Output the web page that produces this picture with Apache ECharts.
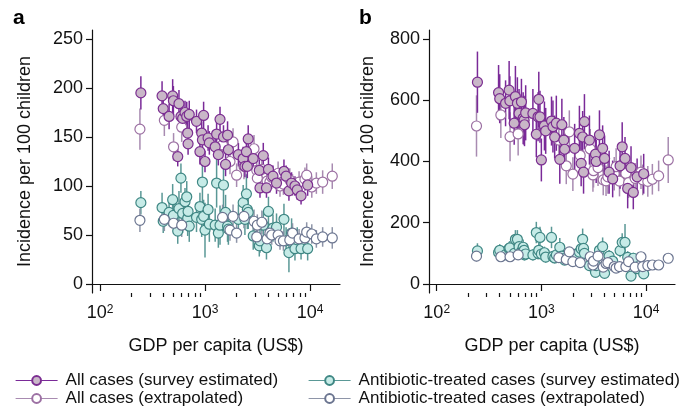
<!DOCTYPE html>
<html><head><meta charset="utf-8">
<script src="https://cdn.jsdelivr.net/npm/echarts@6/dist/echarts.min.js"></script>
<style>html,body{margin:0;padding:0;background:#fff}#c{width:687px;height:409px}</style>
</head><body><div id="c"></div>
<script>
// ---- Data ----
// Countries with survey-estimated values (GDP per capita, US$)
const surveyGdp = [245,390,400,455,492,500,550,565,590,612,645,670,684,690,708,830,895,930,945,970,1000,1070,1100,1250,1290,1340,1390,1500,1570,1640,1670,2080,2310,2400,2480,2530,2580,2880,3290,3340,3590,3850,4020,4440,4800,5650,5920,6300,6680,7190,7560,8220,9500];
// Panel a: all cases (survey)
const allA = [195,192,179,171,192,187,130,184,171,169,175,171,154,143,173,166,135,154,147,172,125,149,144,140,153,132,168,150,122,152,137,132,128,120,135,120,148,128,116,98,131,98,117,110,103,115,110,95,103,100,96,90,101];
const allAErr = [17,15,14,13,17,15,10,14,16,14,12,15,12,11,14,12,13,12,12,14,11,13,12,12,14,11,13,12,12,14,12,12,12,11,14,12,14,12,11,10,13,10,12,11,11,12,11,10,11,10,10,9,11];
// Panel a: antibiotic-treated (survey)
const abA = [83,78,64,73,86,70,54,77,108,72,84,89,67,74,59,68,79,66,104,69,55,76,61,60,103,52,60,101,73,59,56,66,83,66,92,76,73,49,39,44,60,37,74,57,58,66,44,32,52,36,45,36,36];
const abAErr = [12,15,12,14,16,13,13,18,15,20,14,16,18,20,16,15,14,18,25,17,28,16,18,17,25,15,20,24,18,16,16,15,18,16,20,20,17,14,11,12,14,12,15,14,14,16,14,20,15,12,13,11,12];
// Panel b: all cases (survey)
const allB = [659,625,605,590,633,598,525,612,590,557,595,541,535,520,559,557,489,546,603,546,405,516,500,532,514,480,525,407,520,470,440,443,492,394,480,365,530,470,424,400,487,443,410,365,343,386,448,410,312,380,299,350,360];
const allBErr = [100,90,80,75,95,80,70,100,85,80,75,85,80,70,90,80,75,80,90,85,70,80,75,80,85,70,90,80,85,75,70,80,90,75,85,70,90,80,70,70,80,75,75,70,60,75,80,70,65,70,55,60,65];
// Panel b: antibiotic-treated (survey)
const abB = [108,103,110,96,116,118,100,146,146,122,106,120,110,95,98,95,168,100,110,152,98,102,88,152,90,85,95,120,91,84,78,95,104,115,146,116,100,60,38,60,110,122,35,91,75,109,136,136,87,26,84,50,33];
const abBErr = [25,20,20,18,22,22,18,30,30,25,20,25,20,18,18,18,35,20,25,35,20,20,18,35,18,18,18,30,18,18,16,20,20,25,35,25,20,18,14,16,22,30,14,20,18,22,30,60,20,14,18,16,14];

// Countries with extrapolated values
const extrapGdp = [240,410,502,600,1470,1730,1850,2000,2350,2930,3110,3150,3480,3900,4150,4320,4970,5180,5580,6420,6820,7870,8950,9300,10400,11500,13200,16300];
const allAx = [158,167,140,160,142,125,145,111,120,138,116,108,117,105,104,109,113,100,102,106,101,104,107,111,99,103,104,110];
const allAxErr = [21,16,14,15,14,13,14,12,13,14,12,12,13,12,11,12,12,11,11,12,11,11,12,12,11,11,12,13];
const abAx = [65,66,62,60,68,55,69,52,69,64,48,60,63,46,52,50,50,44,44,45,52,46,47,53,51,46,48,47];
const abAxErr = [12,12,11,12,13,11,12,10,12,12,10,11,12,10,10,10,11,9,10,10,10,10,10,10,10,9,10,11];
const allBx = [516,552,481,490,470,386,497,359,420,441,356,370,380,340,337,350,360,383,336,361,331,345,365,340,335,342,353,405];
const allBxErr = [100,75,80,70,65,60,70,55,60,65,55,55,60,50,50,55,55,60,50,55,50,50,55,50,50,50,50,75];
const abBx = [91,89,89,95,86,80,105,73,70,89,62,75,91,55,67,70,57,52,57,57,73,55,89,57,60,62,62,84];
const abBxErr = [18,15,15,15,15,14,16,13,14,15,12,13,15,12,12,12,12,12,12,12,13,12,14,12,12,12,12,15];

// Axis ticks
const xMajor = [100, 1000, 10000];
const xMinor = [200,300,400,500,600,700,800,900,2000,3000,4000,5000,6000,7000,8000,9000];
const yTicksA = [0, 50, 100, 150, 200, 250];
const yTicksB = [0, 200, 400, 600, 800];

const NAMES = ['All cases (survey estimated)', 'All cases (extrapolated)',
  'Antibiotic-treated cases (survey estimated)', 'Antibiotic-treated cases (extrapolated)'];

// ---- Styling ----
const FONT = '"Liberation Sans", Arial, Helvetica, sans-serif';
const STY = [
  {fill:'#c9b7c8', border:'#7b2d91', bar:'#7a2a98'},
  {fill:'#ffffff', border:'#9c70a3', bar:'#a88bb1'},
  {fill:'#c6ebe7', border:'#3f8784', bar:'#5a9896'},
  {fill:'#ffffff', border:'#6b7590', bar:'#8e95a8'}
];

const pts = (g, v) => g.map((x, i) => [x, v[i]]);
const bars = (g, v, e) => g.map((x, i) => [x, v[i] - e[i], v[i] + e[i]]);

function errSeries(xi, yi, data, color) {
  return {
    type: 'custom', xAxisIndex: xi, yAxisIndex: yi, data: data, silent: true, animation: false,
    encode: {x: 0, y: [1, 2]},
    renderItem: function (params, api) {
      const p1 = api.coord([api.value(0), api.value(1)]);
      const p2 = api.coord([api.value(0), api.value(2)]);
      return {type: 'line', shape: {x1: p1[0], y1: p1[1], x2: p2[0], y2: p2[1]},
        style: {stroke: color, lineWidth: 1.5}};
    }
  };
}
function ptSeries(xi, yi, k, data) {
  return {
    type: 'line', name: NAMES[k], xAxisIndex: xi, yAxisIndex: yi, data: data,
    symbol: 'circle', symbolSize: 10, showSymbol: true, showAllSymbol: true,
    lineStyle: {opacity: 0, width: 0},
    itemStyle: {color: STY[k].fill, borderColor: STY[k].border, borderWidth: 1.2},
    emphasis: {disabled: true}, animation: false, clip: false, z: 3
  };
}

function panelSeries(xi, yi, all, allE, ab, abE, allX, allXE, abX, abXE) {
  return [
    errSeries(xi, yi, bars(surveyGdp, ab, abE), STY[2].bar),
    ptSeries(xi, yi, 2, pts(surveyGdp, ab)),
    errSeries(xi, yi, bars(extrapGdp, abX, abXE), STY[3].bar),
    ptSeries(xi, yi, 3, pts(extrapGdp, abX)),
    errSeries(xi, yi, bars(extrapGdp, allX, allXE), STY[1].bar),
    ptSeries(xi, yi, 1, pts(extrapGdp, allX)),
    errSeries(xi, yi, bars(surveyGdp, all, allE), STY[0].bar),
    ptSeries(xi, yi, 0, pts(surveyGdp, all))
  ];
}

const supFmt = v => '{b|10}{s|' + Math.round(Math.log10(v)) + '}';
const axisCol = '#111';

function xAxes(grid, min, max) {
  return [{
    gridIndex: grid, type: 'log', min: min, max: max, position: 'bottom',
    axisLine: {lineStyle: {color: axisCol, width: 1.2}},
    axisTick: {customValues: xMajor, length: 7, lineStyle: {color: axisCol, width: 1.2}},
    axisLabel: {customValues: xMajor, formatter: supFmt, margin: 11, color: axisCol,
      rich: {b: {fontSize: 18, fontFamily: FONT, color: axisCol},
             s: {fontSize: 12, fontFamily: FONT, color: axisCol, verticalAlign: 'top'}}},
    splitLine: {show: false},
    name: 'GDP per capita (US$)', nameLocation: 'middle', nameGap: 44,
    nameTextStyle: {fontSize: 18, fontFamily: FONT, color: axisCol}
  }, {
    gridIndex: grid, type: 'log', min: min, max: max, position: 'bottom',
    axisLine: {show: false},
    axisTick: {customValues: xMinor, length: 4, lineStyle: {color: axisCol, width: 1.2}},
    axisLabel: {show: false}, splitLine: {show: false}
  }];
}
function yAxis(grid, min, max, ticks, gap) {
  return {
    gridIndex: grid, type: 'value', min: min, max: max,
    axisLine: {show: true, lineStyle: {color: axisCol, width: 1.2}},
    axisTick: {show: true, customValues: ticks, length: 6, lineStyle: {color: axisCol, width: 1.2}},
    axisLabel: {customValues: ticks, fontSize: 18, fontFamily: FONT, color: axisCol, margin: 9},
    splitLine: {show: false},
    name: 'Incidence per 100 children', nameLocation: 'middle', nameGap: gap, nameRotate: 90,
    nameTextStyle: {fontSize: 18, fontFamily: FONT, color: axisCol}
  };
}

function legendDef(left, ks) {
  return {
    orient: 'vertical', left: left, top: 372, padding: 0, itemGap: 1,
    itemWidth: 42, itemHeight: 11, selectedMode: false,
    textStyle: {fontSize: 17, fontFamily: FONT, color: axisCol, padding: [0, 0, 0, 3]},
    data: ks.map(k => ({name: NAMES[k], lineStyle: {color: STY[k].bar, width: 1.2, opacity: 1}}))
  };
}

const option = {
  backgroundColor: '#fff',
  animation: false,
  textStyle: {fontFamily: FONT},
  title: [
    {text: 'a', left: 13, top: 8, padding: 0, textStyle: {fontSize: 21, fontWeight: 'bold', fontFamily: FONT, color: '#000'}},
    {text: 'b', left: 359, top: 8, padding: 0, textStyle: {fontSize: 21, fontWeight: 'bold', fontFamily: FONT, color: '#000'}}
  ],
  grid: [
    {left: 92, top: 30, width: 248, height: 263},
    {left: 429, top: 30, width: 246, height: 263}
  ],
  xAxis: [].concat(xAxes(0, 83.9, 19310), xAxes(1, 84.4, 18920)),
  yAxis: [yAxis(0, -9.2, 259.2, yTicksA, 58), yAxis(1, -29.4, 829.4, yTicksB, 52)],
  legend: [legendDef(15, [0, 1]), legendDef(308, [2, 3])],
  series: [].concat(
    panelSeries(0, 0, allA, allAErr, abA, abAErr, allAx, allAxErr, abAx, abAxErr),
    panelSeries(2, 1, allB, allBErr, abB, abBErr, allBx, allBxErr, abBx, abBxErr)
  )
};

const chart = echarts.init(document.getElementById('c'), null, {renderer: 'canvas'});
chart.setOption(option);
</script>
</body></html>
